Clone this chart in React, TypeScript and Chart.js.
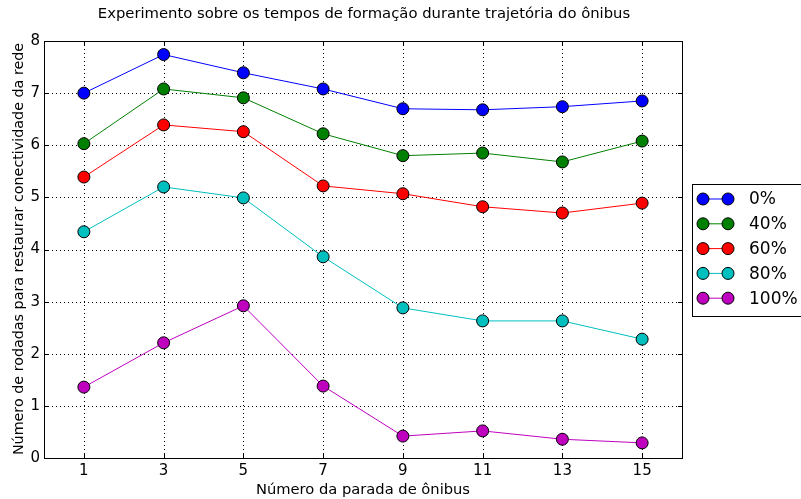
import { useEffect, useRef } from "react";
import { Chart, registerables } from "chart.js";

Chart.register(...registerables);

// Paradas de ônibus (eixo x) e rodadas médias por porcentagem de nós
const paradas = [1, 3, 5, 7, 9, 11, 13, 15];
const serie0 = [7.0, 7.74, 7.39, 7.08, 6.7, 6.68, 6.74, 6.85];
const serie40 = [6.03, 7.08, 6.91, 6.22, 5.8, 5.85, 5.68, 6.08];
const serie60 = [5.39, 6.39, 6.26, 5.22, 5.07, 4.82, 4.7, 4.89];
const serie80 = [4.34, 5.2, 4.99, 3.86, 2.88, 2.63, 2.63, 2.28];
const serie100 = [1.36, 2.21, 2.92, 1.38, 0.42, 0.52, 0.36, 0.29];
const rotulos = ["0%", "40%", "60%", "80%", "100%"];
const cores = ["#0000ff", "#008000", "#ff0000", "#00bfbf", "#bf00bf"];
const ticksY = [0, 1, 2, 3, 4, 5, 6, 7, 8];

const titulo = "Experimento sobre os tempos de formação durante trajetória do ônibus";
const tituloX = "Número da parada de ônibus";
const tituloY = "Número de rodadas para restaurar conectividade da rede";

const FONTE = "'DejaVu Sans', Verdana, sans-serif";

const moldura = {
  id: "moldura",
  beforeDatasetsDraw(chart: any) {
    const { ctx, chartArea: a, scales } = chart;
    ctx.save();
    ctx.strokeStyle = "#000";
    ctx.lineWidth = 1;
    ctx.setLineDash([1, 3]);
    for (const v of paradas) {
      const x = Math.round(scales.x.getPixelForValue(v)) + 0.5;
      ctx.beginPath();
      ctx.moveTo(x, a.top);
      ctx.lineTo(x, a.bottom);
      ctx.stroke();
    }
    for (const v of ticksY) {
      const y = Math.round(scales.y.getPixelForValue(v)) + 0.5;
      ctx.beginPath();
      ctx.moveTo(a.left, y);
      ctx.lineTo(a.right, y);
      ctx.stroke();
    }
    ctx.restore();
  },
  afterDraw(chart: any) {
    const { ctx, chartArea: a, scales } = chart;
    ctx.save();
    ctx.strokeStyle = "#000";
    ctx.lineWidth = 1;
    ctx.setLineDash([]);
    // marcas internas dos eixos
    const t = 4;
    for (const v of paradas) {
      const x = Math.round(scales.x.getPixelForValue(v)) + 0.5;
      ctx.beginPath();
      ctx.moveTo(x, a.bottom);
      ctx.lineTo(x, a.bottom - t);
      ctx.moveTo(x, a.top);
      ctx.lineTo(x, a.top + t);
      ctx.stroke();
    }
    for (const v of ticksY) {
      const y = Math.round(scales.y.getPixelForValue(v)) + 0.5;
      ctx.beginPath();
      ctx.moveTo(a.left, y);
      ctx.lineTo(a.left + t, y);
      ctx.moveTo(a.right, y);
      ctx.lineTo(a.right - t, y);
      ctx.stroke();
    }
    // caixa do gráfico
    ctx.strokeRect(Math.round(a.left) + 0.5, Math.round(a.top) + 0.5, Math.round(a.right - a.left), Math.round(a.bottom - a.top));

    // textos
    ctx.fillStyle = "#000";
    ctx.textAlign = "center";
    ctx.textBaseline = "middle";
    ctx.font = `14.8px ${FONTE}`;
    ctx.fillText(titulo, 364, 14);
    ctx.font = `14.7px ${FONTE}`;
    ctx.fillText(tituloX, 363, 490);
    ctx.save();
    ctx.translate(19, 249);
    ctx.rotate(-Math.PI / 2);
    ctx.font = `14.3px ${FONTE}`;
    ctx.fillText(tituloY, 0, 0);
    ctx.restore();

    // legenda
    const bx = 692.5, by = 184.5, bw = 120, bh = 132;
    ctx.fillStyle = "#fff";
    ctx.fillRect(bx, by, bw, bh);
    ctx.strokeRect(bx, by, bw, bh);
    ctx.font = `17px ${FONTE}`;
    ctx.textAlign = "left";
    chart.data.datasets.forEach((ds: any, i: number) => {
      const y = 199 + i * 24.8;
      ctx.strokeStyle = ds.borderColor;
      ctx.lineWidth = 1;
      ctx.beginPath();
      ctx.moveTo(703, y);
      ctx.lineTo(728, y);
      ctx.stroke();
      for (const cx of [703, 728]) {
        ctx.beginPath();
        ctx.arc(cx, y, 6, 0, Math.PI * 2);
        ctx.fillStyle = ds.pointBackgroundColor;
        ctx.fill();
        ctx.strokeStyle = "#000";
        ctx.stroke();
      }
      ctx.fillStyle = "#000";
      ctx.fillText(ds.label, 749, y + 1);
    });
    ctx.restore();
  },
};

export default function App() {
  const ref = useRef<HTMLCanvasElement>(null);

  useEffect(() => {
    document.body.style.margin = "0";
    const series = [serie0, serie40, serie60, serie80, serie100];
    const chart = new Chart(ref.current!, {
      type: "line",
      data: {
        datasets: series.map((s, i) => ({
          label: rotulos[i],
          data: s.map((v, j) => ({ x: paradas[j], y: v })),
          borderColor: cores[i],
          backgroundColor: cores[i],
          pointBackgroundColor: cores[i],
          pointBorderColor: "#000",
          pointBorderWidth: 1,
          pointRadius: 6,
          borderWidth: 1,
          tension: 0,
          fill: false,
        })),
      },
      options: {
        responsive: false,
        animation: false,
        layout: { padding: { top: 41, right: 119, left: 0, bottom: 0 } },
        plugins: {
          legend: { display: false },
          title: { display: false },
          tooltip: { enabled: false },
        },
        scales: {
          x: {
            type: "linear",
            min: 0,
            max: 16,
            afterBuildTicks: (s: any) => {
              s.ticks = paradas.map((v) => ({ value: v }));
            },
            afterFit: (s: any) => {
              s.height = 41;
            },
            grid: { display: false, drawTicks: false },
            border: { display: false },
            ticks: {
              color: "#000",
              font: { family: FONTE, size: 15 },
              padding: 4,
              maxRotation: 0,
              autoSkip: false,
            },
          },
          y: {
            type: "linear",
            min: 0,
            max: 8,
            afterBuildTicks: (s: any) => {
              s.ticks = ticksY.map((v) => ({ value: v }));
            },
            afterFit: (s: any) => {
              s.width = 44;
            },
            grid: { display: false, drawTicks: false },
            border: { display: false },
            ticks: {
              color: "#000",
              font: { family: FONTE, size: 15 },
              padding: 4,
            },
          },
        },
      },
      plugins: [moldura],
    });
    return () => chart.destroy();
  }, []);

  return <canvas ref={ref} width={801} height={499} style={{ display: "block" }} />;
}
